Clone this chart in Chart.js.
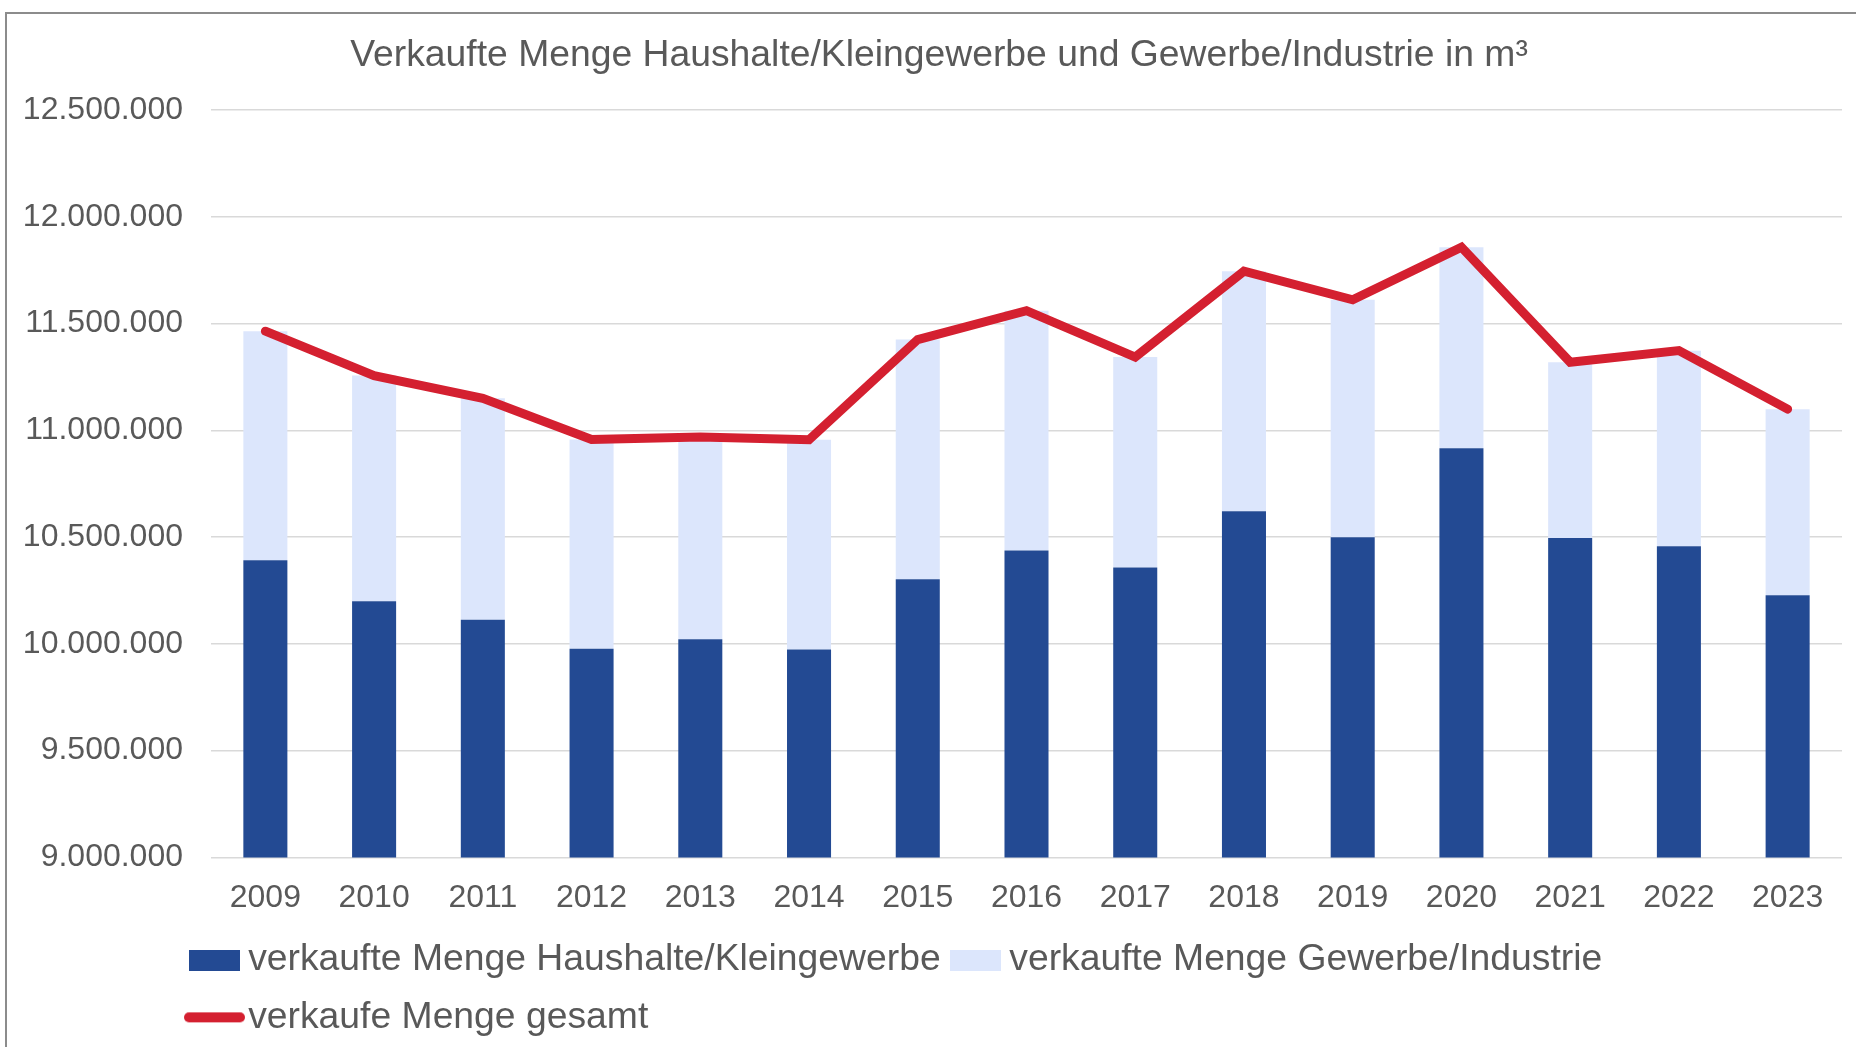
<!DOCTYPE html>
<html>
<head>
<meta charset="utf-8">
<script src="https://cdn.jsdelivr.net/npm/chart.js@4.4.0/dist/chart.umd.min.js"></script>
<style>
  html, body { margin: 0; padding: 0; background: #ffffff; overflow: hidden; }
  #c { position: absolute; left: 0; top: 0; width: 1856px; height: 1047px; }
</style>
</head>
<body>
<canvas id="c" width="1856" height="1047"></canvas>
<script>
// ---- data ----
const years = ['2009', '2010', '2011', '2012', '2013', '2014', '2015', '2016',
               '2017', '2018', '2019', '2020', '2021', '2022', '2023'];
const haushalte = [10391000, 10199000, 10113000, 9977000, 10021000, 9973000, 10302000, 10437000,
                   10358000, 10621000, 10499000, 10916000, 10496000, 10457000, 10227000];
const gewerbe   = [1073000, 1057000, 1037000, 980000, 947000, 983000, 1123000, 1123000,
                   985000, 1124000, 1112000, 941000, 823000, 916000, 872000];
const gesamt    = [11464000, 11256000, 11150000, 10957000, 10968000, 10956000, 11425000, 11560000,
                   11343000, 11745000, 11611000, 11857000, 11319000, 11373000, 11099000];
const yMin = 9000000;
const yMax = 12500000;
const yStep = 500000;

const seriesNames = [
  'verkaufte Menge Haushalte/Kleingewerbe',
  'verkaufte Menge Gewerbe/Industrie',
  'verkaufe Menge gesamt'
];
const titleText = 'Verkaufte Menge Haushalte/Kleingewerbe und Gewerbe/Industrie in m³';

// ---- styling ----
const FONT = "'Liberation Sans', Arial, sans-serif";
const TEXT = '#595959';
const DARK = '#234A93';
const LIGHT = '#DCE6FC';
const RED = '#D42030';

function fmt(v) {
  return String(Math.round(v)).replace(/\B(?=(\d{3})+(?!\d))/g, '.');
}

// legend markers (Excel-like wide boxes and a round-capped line)
function marker(w, h, paint) {
  const c = document.createElement('canvas');
  c.width = w; c.height = h;
  paint(c.getContext('2d'));
  return c;
}
const darkMarker = marker(51, 21, g => { g.fillStyle = DARK; g.fillRect(0, 0, 51, 21); });
const lightMarker = marker(51, 21, g => { g.fillStyle = LIGHT; g.fillRect(0, 0, 51, 21); });
const lineMarker = marker(61, 12, g => {
  g.strokeStyle = RED; g.lineWidth = 10; g.lineCap = 'round';
  g.beginPath(); g.moveTo(5, 6); g.lineTo(56, 6); g.stroke();
});

const framePlugin = {
  id: 'frame',
  beforeDraw(chart) {
    const ctx = chart.ctx;
    ctx.save();
    ctx.fillStyle = '#ffffff';
    ctx.fillRect(0, 0, chart.width, chart.height);
    ctx.strokeStyle = '#8c8c8c';
    ctx.lineWidth = 2;
    ctx.beginPath();
    ctx.moveTo(6, chart.height);
    ctx.lineTo(6, 13);
    ctx.lineTo(chart.width, 13);
    ctx.stroke();
    ctx.restore();
  }
};

const placeBoxes = {
  id: 'placeBoxes',
  afterLayout(chart) {
    const l = chart.legend;
    if (l) {
      const dx = 199.5 - (l.left + 20);
      l.left += dx;
      l.right += dx;
    }
    const t = chart.titleBlock;
    if (t) {
      t.left += 18;
      t.right += 18;
    }
  }
};

new Chart(document.getElementById('c'), {
  data: {
    labels: years,
    datasets: [
      {
        type: 'bar',
        label: seriesNames[0],
        data: haushalte,
        backgroundColor: DARK,
        borderWidth: 0,
        stack: 'bars',
        order: 0,
        pointStyle: darkMarker,
        categoryPercentage: 1,
        barPercentage: 0.405
      },
      {
        type: 'bar',
        label: seriesNames[1],
        data: gewerbe,
        backgroundColor: LIGHT,
        borderWidth: 0,
        stack: 'bars',
        order: 0,
        pointStyle: lightMarker,
        categoryPercentage: 1,
        barPercentage: 0.405
      },
      {
        type: 'line',
        label: seriesNames[2],
        data: gesamt,
        borderColor: RED,
        backgroundColor: RED,
        borderWidth: 9,
        borderCapStyle: 'round',
        borderJoinStyle: 'miter',
        pointRadius: 0,
        pointStyle: lineMarker,
        tension: 0,
        fill: false,
        stack: 'line',
        order: -1
      }
    ]
  },
  options: {
    responsive: false,
    animation: false,
    devicePixelRatio: 1,
    layout: { padding: { left: 0, right: 14, top: 0, bottom: 1 } },
    plugins: {
      tooltip: { enabled: false },
      title: {
        display: true,
        text: titleText,
        color: TEXT,
        font: { family: FONT, size: 37.3, weight: 'normal' },
        padding: { top: 33.5, bottom: 31.7 }
      },
      legend: {
        display: true,
        position: 'bottom',
        align: 'start',
        labels: {
          color: TEXT,
          font: { family: FONT, size: 37.3 },
          usePointStyle: true,
          pointStyleWidth: 30,
          boxHeight: 21,
          padding: 20,
          sort: (a, b) => a.datasetIndex - b.datasetIndex
        }
      }
    },
    scales: {
      x: {
        stacked: true,
        grid: { display: false, drawTicks: false },
        border: { display: false },
        ticks: { color: TEXT, font: { family: FONT, size: 32 }, padding: 22, maxRotation: 0 },
        afterFit(scale) { scale.height = 64; }
      },
      y: {
        stacked: true,
        min: yMin,
        max: yMax,
        grid: { color: '#D9D9D9', lineWidth: 1.5, drawTicks: false },
        border: { display: false },
        ticks: {
          stepSize: yStep,
          color: TEXT,
          font: { family: FONT, size: 32 },
          padding: 28,
          callback: (v) => fmt(v)
        },
        afterFit(scale) { scale.width = 211; }
      }
    }
  },
  plugins: [framePlugin, placeBoxes]
});
</script>
</body>
</html>
